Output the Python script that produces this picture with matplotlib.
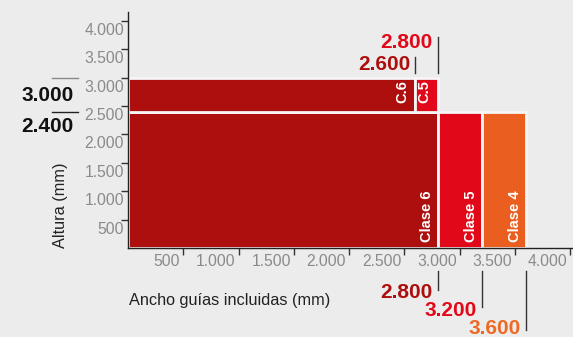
import numpy as np
import matplotlib
matplotlib.use("Agg")
import matplotlib.pyplot as plt
from matplotlib import transforms
from matplotlib.lines import Line2D

plt.rcParams['font.family'] = ['Liberation Sans', 'DejaVu Sans']

# data
main_labels = ['Clase 6', 'Clase 5', 'Clase 4']
main_ends = [2800, 3200, 3600]
main_top = 2400
upper_labels = ['C.6', 'C.5']
upper_ends = [2600, 2800]
upper_top = 3000
x_ticks = [500, 1000, 1500, 2000, 2500, 3000, 3500, 4000]
y_ticks = [500, 1000, 1500, 2000, 2500, 3000, 3500, 4000]

colors = ['#ac0f0d', '#e10919', '#ea5f20']
bg = '#ececec'

W, H = 573, 337
fig = plt.figure(figsize=(W / 100, H / 100), dpi=100, facecolor=bg)
ax = fig.add_axes([128 / W, 1 - 248 / H, (W - 128) / W, (248 - 12) / H])
ax.set_facecolor(bg)
ax.set_xlim(0, 4025)
ax.set_ylim(0, 4155)

def fx(px):
    return px / W

def fy(px):
    return 1 - px / H

def num(s):
    return '{:,}'.format(s).replace(',', '.')

def shift(t, dx, dy):
    # offset in pixels
    return t + transforms.ScaledTranslation(dx / 100, dy / 100, fig.dpi_scale_trans)

# main row
starts = [0] + main_ends[:-1]
ax.bar(starts, [main_top] * 3, width=np.array(main_ends) - np.array(starts),
       align='edge', color=colors, edgecolor='#f6f6f6', linewidth=2)
# upper row
ustarts = [0] + upper_ends[:-1]
ax.bar(ustarts, [upper_top - main_top] * 2,
       width=np.array(upper_ends) - np.array(ustarts), bottom=main_top,
       align='edge', color=colors[:2], edgecolor='#f6f6f6', linewidth=2)

# labels in the bars
for lab, e in zip(main_labels, main_ends):
    ax.text(e, 0, lab, rotation=90, ha='center', va='bottom', color='white',
            fontsize=10.5, fontweight='bold', transform=shift(ax.transData, -11, 6))
for lab, e in zip(upper_labels, upper_ends):
    ax.text(e, upper_top, lab, rotation=90, ha='center', va='top', color='white',
            fontsize=10.5, fontweight='bold', transform=shift(ax.transData, -13, -3))

# axes styling
for s in ['top', 'right']:
    ax.spines[s].set_visible(False)
for s in ['left', 'bottom']:
    ax.spines[s].set_color('#222222')
    ax.spines[s].set_linewidth(1)
ax.set_xticks(x_ticks)
ax.set_yticks(y_ticks)
ax.set_xticklabels([num(v) for v in x_ticks])
ax.set_yticklabels([num(v) for v in y_ticks])
ax.tick_params(axis='both', direction='out', length=5, width=1, color='#333333',
               labelcolor='#8a8a8a', labelsize=11.3, pad=0)
for lbl in ax.get_xticklabels():
    lbl.set_ha('right')
    lbl.set_va('top')
    lbl.set_transform(shift(lbl.get_transform(), -3, 1))
for lbl in ax.get_yticklabels():
    lbl.set_ha('right')
    lbl.set_va('top')
    lbl.set_transform(shift(lbl.get_transform(), 3, -2))

fig.text(fx(61), fy(205), 'Altura (mm)', rotation=90, ha='center', va='center',
         fontsize=11.7, color='#222222')
fig.text(fx(129), fy(300), 'Ancho guías incluidas (mm)', ha='left', va='center',
         fontsize=11.7, color='#222222')

# left annotations
bt = transforms.blended_transform_factory(fig.transFigure, ax.transData)
for v, c, ypx in [(upper_top, '#8a8a8a', 95), (main_top, '#222222', 127)]:
    fig.add_artist(Line2D([fx(52), fx(78)], [v, v], transform=bt, color=c, lw=1))
    fig.text(fx(74), fy(ypx), num(v), ha='right', va='center', fontsize=15,
             fontweight='bold', color='#111111')

# top annotations
xt = transforms.blended_transform_factory(ax.transData, fig.transFigure)
top_notes = [(upper_ends[1], colors[1], 37, 43), (upper_ends[0], colors[0], 57, 65)]
for v, c, y0, ty in top_notes:
    fig.add_artist(Line2D([v, v], [fy(y0), fy(73)], transform=xt, color='#333333', lw=1))
    fig.text(v, fy(ty), num(v), ha='right', va='center', fontsize=15,
             fontweight='bold', color=c, transform=shift(xt, -5, 0))

# bottom annotations
bot_notes = [(main_ends[0], colors[0], 290, 293), (main_ends[1], colors[1], 307, 311),
             (main_ends[2], '#ee6a24', 330, 328)]
for v, c, y1, ty in bot_notes:
    fig.add_artist(Line2D([v, v], [fy(271), fy(y1)], transform=xt, color='#333333', lw=1))
    fig.text(v, fy(ty), num(v), ha='right', va='center', fontsize=15,
             fontweight='bold', color=c, transform=shift(xt, -5, 0))

fig.savefig('out.png', dpi=100, facecolor=bg)
